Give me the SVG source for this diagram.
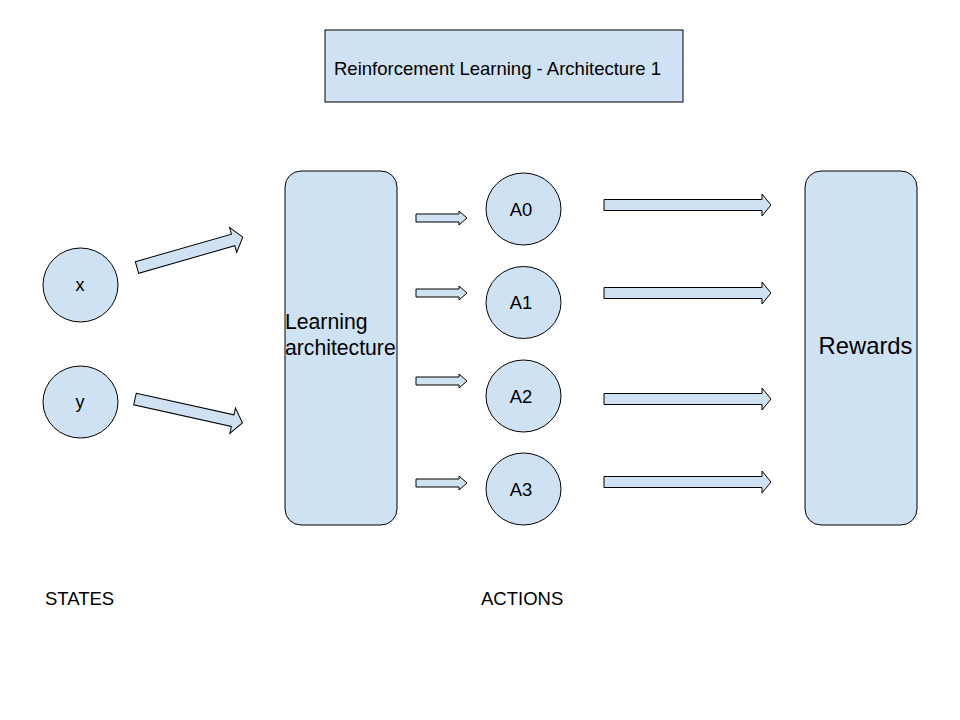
<svg xmlns="http://www.w3.org/2000/svg" width="960" height="720" viewBox="0 0 960 720">
<style>
.s{fill:#cfe2f3;stroke:#000;stroke-width:1}
.t{font-family:"Liberation Sans",Arial,sans-serif;fill:#000}
.c{text-anchor:middle}
</style>
<rect width="960" height="720" fill="#fff"/>
<g id="title"><rect class="s" x="325" y="30" width="358" height="72"/><text class="t" x="334" y="74.5" font-size="18.5">Reinforcement Learning - Architecture 1</text></g>
<g id="learning"><rect class="s" x="285" y="171" width="112" height="354" rx="16"/><text class="t" x="285" y="328.5" font-size="21.2">Learning</text><text class="t" x="285" y="355" font-size="21.2">architecture</text></g>
<g id="rewards"><rect class="s" x="805" y="171" width="112" height="354" rx="16"/><text class="t c" x="865.5" y="353.5" font-size="23.8">Rewards</text></g>
<g id="x"><ellipse class="s" cx="80.5" cy="285" rx="37.5" ry="37"/><text class="t c" x="80" y="291" font-size="18">x</text></g>
<g id="y"><ellipse class="s" cx="80.5" cy="402" rx="37.5" ry="36"/><text class="t c" x="80" y="408" font-size="18">y</text></g>
<g id="a0"><ellipse class="s" cx="523.5" cy="209" rx="37.5" ry="36"/><text class="t c" x="521" y="216" font-size="18.4">A0</text></g>
<g id="a1"><ellipse class="s" cx="523.5" cy="302.5" rx="37.5" ry="36"/><text class="t c" x="521" y="309" font-size="18.4">A1</text></g>
<g id="a2"><ellipse class="s" cx="523.5" cy="396" rx="37.5" ry="36"/><text class="t c" x="521" y="403" font-size="18.4">A2</text></g>
<g id="a3"><ellipse class="s" cx="523.5" cy="489" rx="37.5" ry="36"/><text class="t c" x="521" y="496" font-size="18.4">A3</text></g>
<g id="states"><text class="t" x="45" y="605" font-size="18.5">STATES</text></g>
<g id="actions"><text class="t" x="481" y="605" font-size="18.5">ACTIONS</text></g>
<g id="connectors">
<polygon class="s" transform="translate(137,267.5) rotate(-16)" points="0,-6 100,-6 100,-13 110,0 100,13 100,6 0,6"/>
<polygon class="s" transform="translate(135,399) rotate(12.5)" points="0,-6 100,-6 100,-13 110,0 100,13 100,6 0,6"/>
<polygon class="s" transform="translate(416,218)" points="0,-4 43,-4 43,-7 51,0 43,7 43,4 0,4"/>
<polygon class="s" transform="translate(416,293)" points="0,-4 43,-4 43,-7 51,0 43,7 43,4 0,4"/>
<polygon class="s" transform="translate(416,381)" points="0,-4 43,-4 43,-7 51,0 43,7 43,4 0,4"/>
<polygon class="s" transform="translate(416,483)" points="0,-4 43,-4 43,-7 51,0 43,7 43,4 0,4"/>
<polygon class="s" transform="translate(604,205)" points="0,-5.5 158,-5.5 158,-11 167,0 158,11 158,5.5 0,5.5"/>
<polygon class="s" transform="translate(604,293)" points="0,-5.5 158,-5.5 158,-11 167,0 158,11 158,5.5 0,5.5"/>
<polygon class="s" transform="translate(604,399)" points="0,-5.5 158,-5.5 158,-11 167,0 158,11 158,5.5 0,5.5"/>
<polygon class="s" transform="translate(604,482)" points="0,-5.5 158,-5.5 158,-11 167,0 158,11 158,5.5 0,5.5"/>
</g>
</svg>
